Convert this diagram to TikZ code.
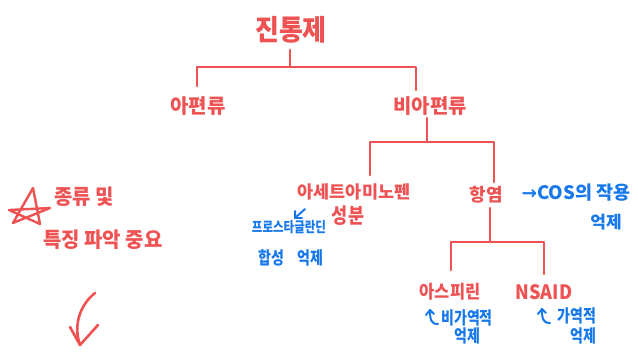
\documentclass[tikz,border=0pt]{standalone}
\usepackage{graphicx}
\usepackage{fontspec}
\setmainfont{Noto Sans CJK KR}
\newfontfamily\symfont{DejaVu Sans}
\newcommand{\tallbox}[1]{\scalebox{1}[1.25]{#1}}
\definecolor{penred}{RGB}{238,82,83}
\definecolor{penblue}{RGB}{22,120,235}
\tikzset{
  redline/.style={draw=penred, line width=2.6pt, line cap=round, line join=round},
  blueline/.style={draw=penblue, line width=2pt, line cap=round, line join=round},
  rtext/.style={text=penred, inner sep=1pt, font=#1},
  btext/.style={text=penblue, inner sep=1pt, font=#1},
}
\begin{document}
\begin{tikzpicture}[x=1pt,y=-1pt]
\useasboundingbox (0,0) rectangle (638,353);
% red tree nodes
\node[rtext={\fontsize{26}{28}\selectfont\bfseries}] (jin) at (291,30) {\scalebox{1}[1.1]{진통제}};
\node[rtext={\fontsize{20}{22}\selectfont\bfseries}] (ap) at (198,106) {아편류};
\node[rtext={\fontsize{20}{22}\selectfont\bfseries}] (bi) at (430,106) {비아편류};
\node[rtext={\fontsize{17.5}{19}\selectfont\bfseries}] (ace) at (354,192) {아세트아미노펜};
\node[rtext={\fontsize{17.5}{19}\selectfont\bfseries}] (seong) at (348,216) {\scalebox{1}[1.2]{성분}};
\node[rtext={\fontsize{18}{20}\selectfont\bfseries}] (hang) at (486,195) {항염};
\node[rtext={\fontsize{16.5}{18}\selectfont\bfseries}] (asp) at (450,292) {\scalebox{1}[1.1]{아스피린}};
\node[rtext={\fontsize{18}{20}\selectfont\bfseries}] (nsaid) at (544,292) {\scalebox{1}[1.1]{NSAID}};
% red note
\node[rtext={\fontsize{19}{21}\selectfont\bfseries}] (kind) at (84,197) {\scalebox{1.05}[1.1]{종류 및}};
\node[rtext={\fontsize{19}{21}\selectfont\bfseries}] (feat) at (103,240) {\scalebox{1.05}[1.1]{특징 파악 중요}};
% blue notes
\node[btext={\fontsize{18.5}{20}\selectfont\bfseries}] (cos) at (576,193) {{\symfont →}COS의 작용};
\node[btext={\fontsize{17}{19}\selectfont\bfseries}] (cos2) at (606,222) {억제};
\node[btext={\fontsize{11.5}{13}\selectfont\bfseries}] (pro) at (289,227) {\tallbox{프로스타글란딘}};
\node[btext={\fontsize{14}{16}\selectfont\bfseries}] (hap) at (291,258) {\tallbox{합성\hspace{0.9em}억제}};
\node[btext={\fontsize{14}{16}\selectfont\bfseries}] (irr) at (467,318) {\tallbox{비가역적}};
\node[btext={\fontsize{14}{16}\selectfont\bfseries}] (irr2) at (467,336) {\tallbox{억제}};
\node[btext={\fontsize{14}{16}\selectfont\bfseries}] (rev) at (577,316) {\tallbox{가역적}};
\node[btext={\fontsize{14}{16}\selectfont\bfseries}] (rev2) at (583,336) {\tallbox{억제}};
% tree connector points
\coordinate (r0) at (290,50);  \coordinate (r1) at (290,67);
\coordinate (rl) at (197,67);  \coordinate (rr) at (416,67);
\coordinate (rl2) at (197,86); \coordinate (rr2) at (416,90);
\coordinate (b0) at (427,118); \coordinate (b1) at (427,142);
\coordinate (bl) at (370,142); \coordinate (br) at (494,142);
\coordinate (bl2) at (370,175); \coordinate (br2) at (494,182);
\coordinate (h0) at (490,208); \coordinate (h1) at (490,242);
\coordinate (hl) at (451,242); \coordinate (hr) at (544,242);
\coordinate (hl2) at (451,270); \coordinate (hr2) at (544,274);
\draw[redline] (r0) -- (r1);
\draw[redline] (rl2) -- (rl) -- (rr) -- (rr2);
\draw[redline] (b0) -- (b1);
\draw[redline] (bl2) -- (bl) -- (br) -- (br2);
\draw[redline] (h0) -- (h1);
\draw[redline] (hl2) -- (hl) -- (hr) -- (hr2);
% star
\draw[redline, line width=2.4pt] (33,188) -- (40,224) -- (9,210) -- (50,208) -- (13,223) -- cycle;
% curved arrow
\coordinate (ca0) at (95,293); \coordinate (ca1) at (80,345);
\coordinate (cal) at (70,327); \coordinate (car) at (98,325);
\draw[redline] (ca0) .. controls (80,305) and (73,325) .. (ca1);
\draw[redline] (cal) -- (ca1) -- (car);
% blue small arrows
\coordinate (pa0) at (305,209); \coordinate (pa1) at (295,218);
\draw[blueline] (pa0) -- (pa1) -- (295,211);
\draw[blueline] (pa1) -- (302,218);
\coordinate (ia0) at (438,324); \coordinate (ia1) at (430,310);
\draw[blueline] (ia0) .. controls (431,324) and (430,320) .. (ia1);
\draw[blueline] (426,315) -- (ia1) -- (434,314);
\coordinate (ra0) at (550,323); \coordinate (ra1) at (542,309);
\draw[blueline] (ra0) .. controls (543,323) and (542,319) .. (ra1);
\draw[blueline] (538,314) -- (ra1) -- (546,313);
\end{tikzpicture}
\end{document}
